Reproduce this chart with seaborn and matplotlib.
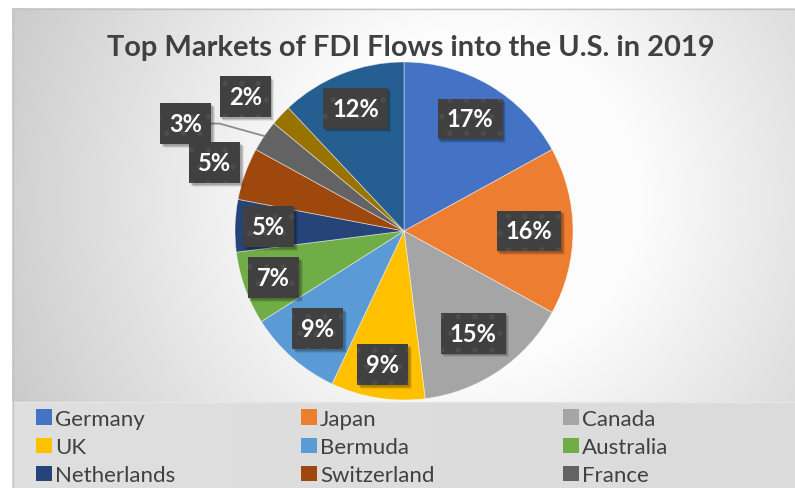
import numpy as np
import matplotlib
matplotlib.use("Agg")
import matplotlib.pyplot as plt
from matplotlib.patches import Patch, Rectangle
from matplotlib.transforms import IdentityTransform
import seaborn as sns

# ---------------- data ----------------
countries = ["Germany", "Japan", "Canada", "UK", "Bermuda", "Australia",
             "Netherlands", "Switzerland", "France", "Luxembourg", "Other"]
shares = [17, 16, 15, 9, 9, 7, 5, 5, 3, 2, 12]
legend_countries = countries[:9]
title = "Top Markets of FDI Flows into the U.S. in 2019"

colors_hex = ["#4472C4", "#ED7D31", "#A5A5A5", "#FFC000", "#5B9BD5", "#70AD47",
              "#264478", "#9E480E", "#636363", "#997300", "#255E91"]

# label placement (radius fraction, angle shift in degrees)
label_r = [0.77, 0.74, 0.73, 0.80, 0.77, 0.82, 0.80, 1.19, 1.44, 1.23, 0.78]
label_dang = [0, 0, 0, 0, 0, 0, 0, 0, 8, 3, 0]

sns.set_theme(style="white")
plt.rcParams["font.family"] = ["Lato", "DejaVu Sans"]
palette = sns.color_palette(colors_hex)

W, H = 795, 489
fig = plt.figure(figsize=(W / 100, H / 100), dpi=100, facecolor="white")

# ---------------- background ----------------
bg = fig.add_axes([0, 0, 1, 1], zorder=-5)
bg.set_xlim(0, W)
bg.set_ylim(H, 0)
bg.axis("off")
yy, xx = np.mgrid[0:H, 0:W]
r = np.hypot(xx - 470, yy - 200)
v = np.clip(0.99 - 0.00059 * (r - 170), 0.78, 0.99)
img = np.dstack([v, v, v])
bg.imshow(img[9:403, 12:], extent=(12, W, 403, 9), aspect="auto", zorder=0)
band = np.clip(0.875 - 0.00002 * (xx[403:, 12:] - 12), 0, 1)
bg.imshow(np.dstack([band, band, band]), extent=(12, W, H, 403), aspect="auto", zorder=0)
bg.plot([12, W], [403, 403], color="#e6e6e6", lw=1, zorder=1)
bg.plot([12, W], [9.5, 9.5], color="#c4c4c4", lw=1, zorder=1)
bg.plot([12.5, 12.5], [9, H], color="#c4c4c4", lw=1, zorder=1)

# ---------------- pie ----------------
cx, cy, R = 404, 232, 169
ax = fig.add_axes([(cx - R) / W, (H - cy - R) / H, 2 * R / W, 2 * R / H])
wedges, _ = ax.pie(shares, colors=palette, startangle=90, counterclock=False,
                   radius=1, wedgeprops=dict(linewidth=0.6, edgecolor=(1, 1, 1, 0.5)))
ax.set_xlim(-1, 1)
ax.set_ylim(-1, 1)
ax.axis("off")

plt.rcParams["hatch.linewidth"] = 1.5
labels = []
for i, w in enumerate(wedges):
    mid = np.deg2rad((w.theta1 + w.theta2) / 2 + label_dang[i])
    x, y = label_r[i] * np.cos(mid), label_r[i] * np.sin(mid)
    t = ax.text(x, y, f"{shares[i]}%", ha="center", va="center", color="white",
                fontsize=17, fontweight="bold", clip_on=False, zorder=5,
                bbox=dict(boxstyle="square,pad=0.38", fc="#404040", ec="#4c4c4c",
                          lw=0, hatch="."))
    labels.append(t)

# soft shadows under the label boxes
fig.canvas.draw()
for t in labels:
    bb = t.get_bbox_patch().get_window_extent()
    for k, a in [(3.5, 0.08), (2.5, 0.12), (1.5, 0.15)]:
        ax.add_patch(Rectangle((bb.x0 + k, bb.y0 - k), bb.width, bb.height,
                               transform=IdentityTransform(), fc=(0, 0, 0, a), lw=0,
                               clip_on=False, zorder=4.5))

# leader line for France
wf = wedges[8]
mf = np.deg2rad((wf.theta1 + wf.theta2) / 2)
ex, ey = 1.0 * np.cos(mf), 1.0 * np.sin(mf)
lx = label_r[8] * np.cos(mf + np.deg2rad(label_dang[8]))
ly = label_r[8] * np.sin(mf + np.deg2rad(label_dang[8]))
ax.plot([lx + 0.15, lx + 0.2, ex], [ly, ly, ey], color="#8c8c8c", lw=1.3,
        clip_on=False, zorder=4)

# ---------------- title ----------------
fig.text(411 / W, 1 - 48 / H, title, ha="center", va="center", fontsize=20.9,
         fontweight="bold", color="#404040")

# ---------------- legend ----------------
col_x = [36, 301, 563]
for c in range(3):
    names = legend_countries[c::3]
    idx = [countries.index(n) for n in names]
    handles = [Patch(facecolor=palette[k], edgecolor="none") for k in idx]
    leg = fig.legend(handles, names, loc="upper left",
                     bbox_to_anchor=(col_x[c] / W, 1 - 410 / H),
                     frameon=False, fontsize=16, handlelength=0.7, handleheight=0.7,
                     handletextpad=0.15, labelspacing=0.37, borderpad=0, borderaxespad=0)
    for txt in leg.get_texts():
        txt.set_color("#404040")

fig.savefig("out.png", dpi=100, facecolor="white")
